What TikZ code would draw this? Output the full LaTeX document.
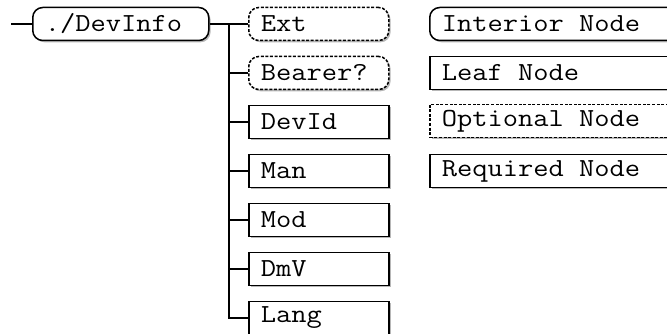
\documentclass[tikz,border=0pt]{standalone}
\usepackage{fontspec}
\newfontfamily\boxfont[FakeStretch=1.14]{Latin Modern Mono}
\newcommand\chgap{\hphantom{x}}
\usetikzlibrary{shadows}
\begin{document}
\begin{tikzpicture}[x=1pt,y=-1pt,
  box/.style={draw=black, fill=white, line width=1.5pt,
    font=\boxfont\fontsize{26}{28}\selectfont,
    minimum height=33pt, inner xsep=12pt, inner ysep=0pt,
    align=left, anchor=west,
    drop shadow={shadow xshift=1.8pt, shadow yshift=-1.8pt, fill=black!40, opacity=0.7}},
  leafbox/.style={box, text width=116pt},
  interior/.style={box, rounded corners=10pt},
  optional/.style={dash pattern=on 3pt off 1.6pt},
  legendbox/.style={box, text width=240pt},
  link/.style={draw=black, line width=1.2pt}
]
\useasboundingbox (0,0) rectangle (667,334);

% root of the tree
\node[interior, text width=152pt] (root) at (32,24) {./DevInfo};
\coordinate (in) at (11,24);

% children
\node[interior, optional, text width=116pt] (ext) at (248,24) {Ext};
\node[interior, optional, text width=116pt] (bearer) at (248,73) {Bearer?};
\node[leafbox] (devid) at (248,122) {DevId};
\node[leafbox] (man) at (248,171) {Man};
\node[leafbox] (mod) at (248,220) {Mod};
\node[leafbox] (dmv) at (248,269) {DmV};
\node[leafbox] (lang) at (248,318) {Lang};

% legend
\node[legendbox, rounded corners=10pt] (lint) at (429,24) {Interior\chgap Node};
\node[legendbox] (lleaf) at (429,73) {Leaf\chgap Node};
\node[legendbox, optional] (lopt) at (429,121) {Optional\chgap Node};
\node[legendbox] (lreq) at (429,171) {Required\chgap Node};

% connectors
\coordinate (trunk) at (229,24);
\draw[link] (in) -- (root.west);
\draw[link] (root.east) -- (ext.west);
\draw[link] (trunk) |- (lang.west);
\foreach \c in {bearer,devid,man,mod,dmv}
  \draw[link] (trunk |- \c.west) -- (\c.west);
\end{tikzpicture}
\end{document}
